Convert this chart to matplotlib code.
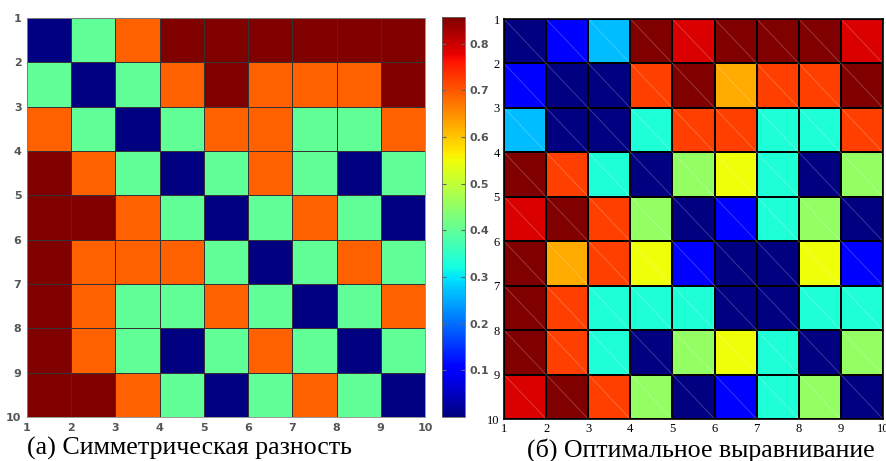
import matplotlib
matplotlib.use("Agg")
import matplotlib.pyplot as plt
import numpy as np

# --- данные ---
ticks = list(range(1, 11))

# (а) симметрическая разность: 0 синий, 0.4 зелёный, 0.69 оранжевый, 0.857 бордовый
B, G, O, R = 0.0, 0.40, 0.69, 0.857
sym_diff = [
    [B, G, O, R, R, R, R, R, R],
    [G, B, G, O, R, O, O, O, R],
    [O, G, B, G, O, O, G, G, O],
    [R, O, G, B, G, O, G, B, G],
    [R, R, O, G, B, G, O, G, B],
    [R, O, O, O, G, B, G, O, G],
    [R, O, G, G, O, G, B, G, O],
    [R, O, G, B, G, O, G, B, G],
    [R, R, O, G, B, G, O, G, B],
]

# (б) оптимальное выравнивание
N, Bl, S, A, L, Y, Or, F, Re, D = 0.0, 0.12, 0.31, 0.39, 0.53, 0.64, 0.73, 0.84, 0.92, 1.0
opt_align = [
    [N, Bl, S, D, Re, D, D, D, Re],
    [Bl, N, N, F, D, Or, F, F, D],
    [S, N, N, A, F, F, A, A, F],
    [D, F, A, N, L, Y, A, N, L],
    [Re, D, F, L, N, Bl, A, L, N],
    [D, Or, F, Y, Bl, N, N, Y, Bl],
    [D, F, A, A, A, N, N, A, A],
    [D, F, A, N, L, Y, A, N, L],
    [Re, D, F, L, N, Bl, A, L, N],
]
cbar_ticks = [0.1, 0.2, 0.3, 0.4, 0.5, 0.6, 0.7, 0.8]

W, H = 887, 461
fig = plt.figure(figsize=(W / 100, H / 100), dpi=100)

def box(x0, y0, x1, y1):
    return [x0 / W, (H - y1) / H, (x1 - x0) / W, (y1 - y0) / H]

edges = np.arange(1, 11)

# левая панель
ax1 = fig.add_axes(box(27, 18, 425, 417))
m1 = ax1.pcolormesh(edges, edges, np.array(sym_diff), cmap="jet", vmin=0, vmax=6 / 7,
                    edgecolors="#333333", linewidth=0.4)
ax1.set_xlim(1, 10)
ax1.set_ylim(10, 1)
ax1.set_xticks(ticks)
ax1.set_yticks(ticks)
ax1.tick_params(direction="in", length=0, labelsize=8, labelcolor="#555555", pad=4)
for lab in ax1.get_xticklabels() + ax1.get_yticklabels():
    lab.set_fontweight("bold")
for s in ax1.spines.values():
    s.set_color("#888888")
    s.set_linewidth(0.6)

cax = fig.add_axes(box(442, 17, 465, 417))
cb = fig.colorbar(m1, cax=cax, ticks=cbar_ticks)
cb.ax.tick_params(labelsize=8, labelcolor="#555555", length=3, direction="in",
                  left=True, color="#666666")
cb.ax.set_yticklabels([f"{t:.1f}" for t in cbar_ticks], fontweight="bold")
cb.outline.set_edgecolor("#666666")
cb.outline.set_linewidth(0.6)

# правая панель
ax2 = fig.add_axes(box(504, 19, 883, 419))
ax2.pcolormesh(edges, edges, np.array(opt_align), cmap="jet", vmin=0, vmax=1,
               edgecolors="black", linewidth=1.2)
for i in range(9):
    for j in range(9):
        ax2.plot([j + 1, j + 2], [i + 1, i + 2], color="white", alpha=0.25, lw=0.6)
ax2.set_xlim(1, 10)
ax2.set_ylim(10, 1)
ax2.set_xticks(ticks)
ax2.set_yticks(ticks)
ax2.tick_params(length=0, labelsize=9, pad=3)
for lab in ax2.get_xticklabels() + ax2.get_yticklabels():
    lab.set_family("Liberation Serif")
for s in ax2.spines.values():
    s.set_linewidth(1.2)

fig.text(27 / W, 1 - 448 / H, "(а) Симметрическая разность", family="Liberation Serif",
         fontsize=18.7, va="center", ha="left")
fig.text(701 / W, 1 - 450 / H, "(б) Оптимальное выравнивание", family="Liberation Serif",
         fontsize=18.6, va="center", ha="center")

fig.savefig("out.png", dpi=100)
